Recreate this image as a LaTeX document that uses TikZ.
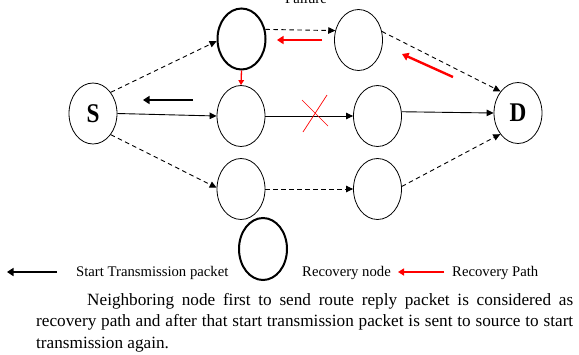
\documentclass[tikz,border=0pt]{standalone}
\usepackage{fontspec}
\setmainfont{Liberation Serif}
\newfontfamily\lblfont[FakeStretch=0.86]{Liberation Serif}
\usetikzlibrary{shapes.geometric,arrows.meta}
\begin{document}
\begin{tikzpicture}[x=1pt,y=-1pt,
 nd/.style={ellipse,draw,line width=0.8pt,minimum width=48pt,minimum height=61pt,inner sep=0pt},
 rec/.style={nd,line width=2pt},
 lbl/.style={font=\lblfont\bfseries\fontsize{27}{30}\selectfont},
 tip/.style={-{Triangle[length=7pt,width=6.5pt]}},
 dsh/.style={tip,dash pattern=on 4.5pt off 3.5pt,line width=0.9pt},
 sol/.style={tip,line width=0.9pt},
 redarr/.style={red,line width=2.4pt,-{Triangle[length=6.5pt,width=8pt]}},
 blkarr/.style={black,line width=2.6pt,-{Triangle[length=6.5pt,width=8pt]}},
 legtxt/.style={anchor=base west,inner sep=0pt,font=\fontsize{14.7}{17}\selectfont}]
\useasboundingbox (0,0) rectangle (579,354);
% nodes
\node[nd,lbl] (S) at (93,113.5) {S};
\node[rec] (A) at (241.5,39) {};
\node[nd] (B) at (358.5,40) {};
\node[nd] (C) at (241,116) {};
\node[nd] (E) at (377.5,116) {};
\node[nd,lbl] (D) at (518,113) {D};
\node[nd] (F) at (241,189) {};
\node[nd] (G) at (377.5,189) {};
\node[anchor=base,inner sep=0pt,font=\fontsize{14.7}{17}\selectfont] (fail) at (306,3) {Failure};
% connectors
\draw[dsh] (S.50) -- (A.185);
\draw[dsh] (A.22) -- (B.158);
\draw[dsh] (B.20) -- (D.129);
\draw[sol] (S.east) -- (C.west);
\draw[sol] (C.east) -- (E.west);
\draw[sol] (E.10) -- (D.west);
\draw[dsh] (S.310) -- (F.177);
\draw[dsh] (F.east) -- (G.west);
\draw[dsh] (G.6) -- (D.230);
\draw[red,line width=1.3pt,-{Triangle[length=5pt,width=5.5pt]}] (A.south) -- (C.north);
% free arrows
\coordinate (r1s) at (322,40); \coordinate (r1e) at (277,40);
\coordinate (r2s) at (453,77); \coordinate (r2e) at (402,54);
\coordinate (b1s) at (193,100); \coordinate (b1e) at (143,100);
\draw[redarr] (r1s) -- (r1e);
\draw[redarr] (r2s) -- (r2e);
\draw[blkarr] (b1s) -- (b1e);
% failure cross
\coordinate (x1) at (302,100); \coordinate (x2) at (328,126);
\coordinate (x3) at (327,95); \coordinate (x4) at (303,132);
\draw[red,line width=0.7pt] (x1) -- (x2) (x3) -- (x4);
% legend
\coordinate (l1s) at (57,272); \coordinate (l1e) at (7,272);
\draw[blkarr,line width=2.2pt] (l1s) -- (l1e);
\node[legtxt] (t1) at (76,276) {Start Transmission packet};
\node[rec,minimum width=48pt,minimum height=62pt] (L) at (263,249) {};
\node[legtxt] (t2) at (302,276) {Recovery node};
\coordinate (l2s) at (444,272); \coordinate (l2e) at (398,272);
\draw[red,line width=2pt,-{Triangle[length=6pt,width=7pt]}] (l2s) -- (l2e);
\node[legtxt] (t3) at (452,276) {Recovery Path};
% caption
\node[anchor=base west,inner sep=0pt] (cap) at (36,305) {\parbox[t]{537pt}{\fontsize{17.2}{21.5}\selectfont\noindent\hspace*{51pt}Neighboring node first to send route reply packet is considered as\linebreak recovery path and after that start transmission packet is sent to source to start\linebreak transmission again.}};
\end{tikzpicture}
\end{document}
